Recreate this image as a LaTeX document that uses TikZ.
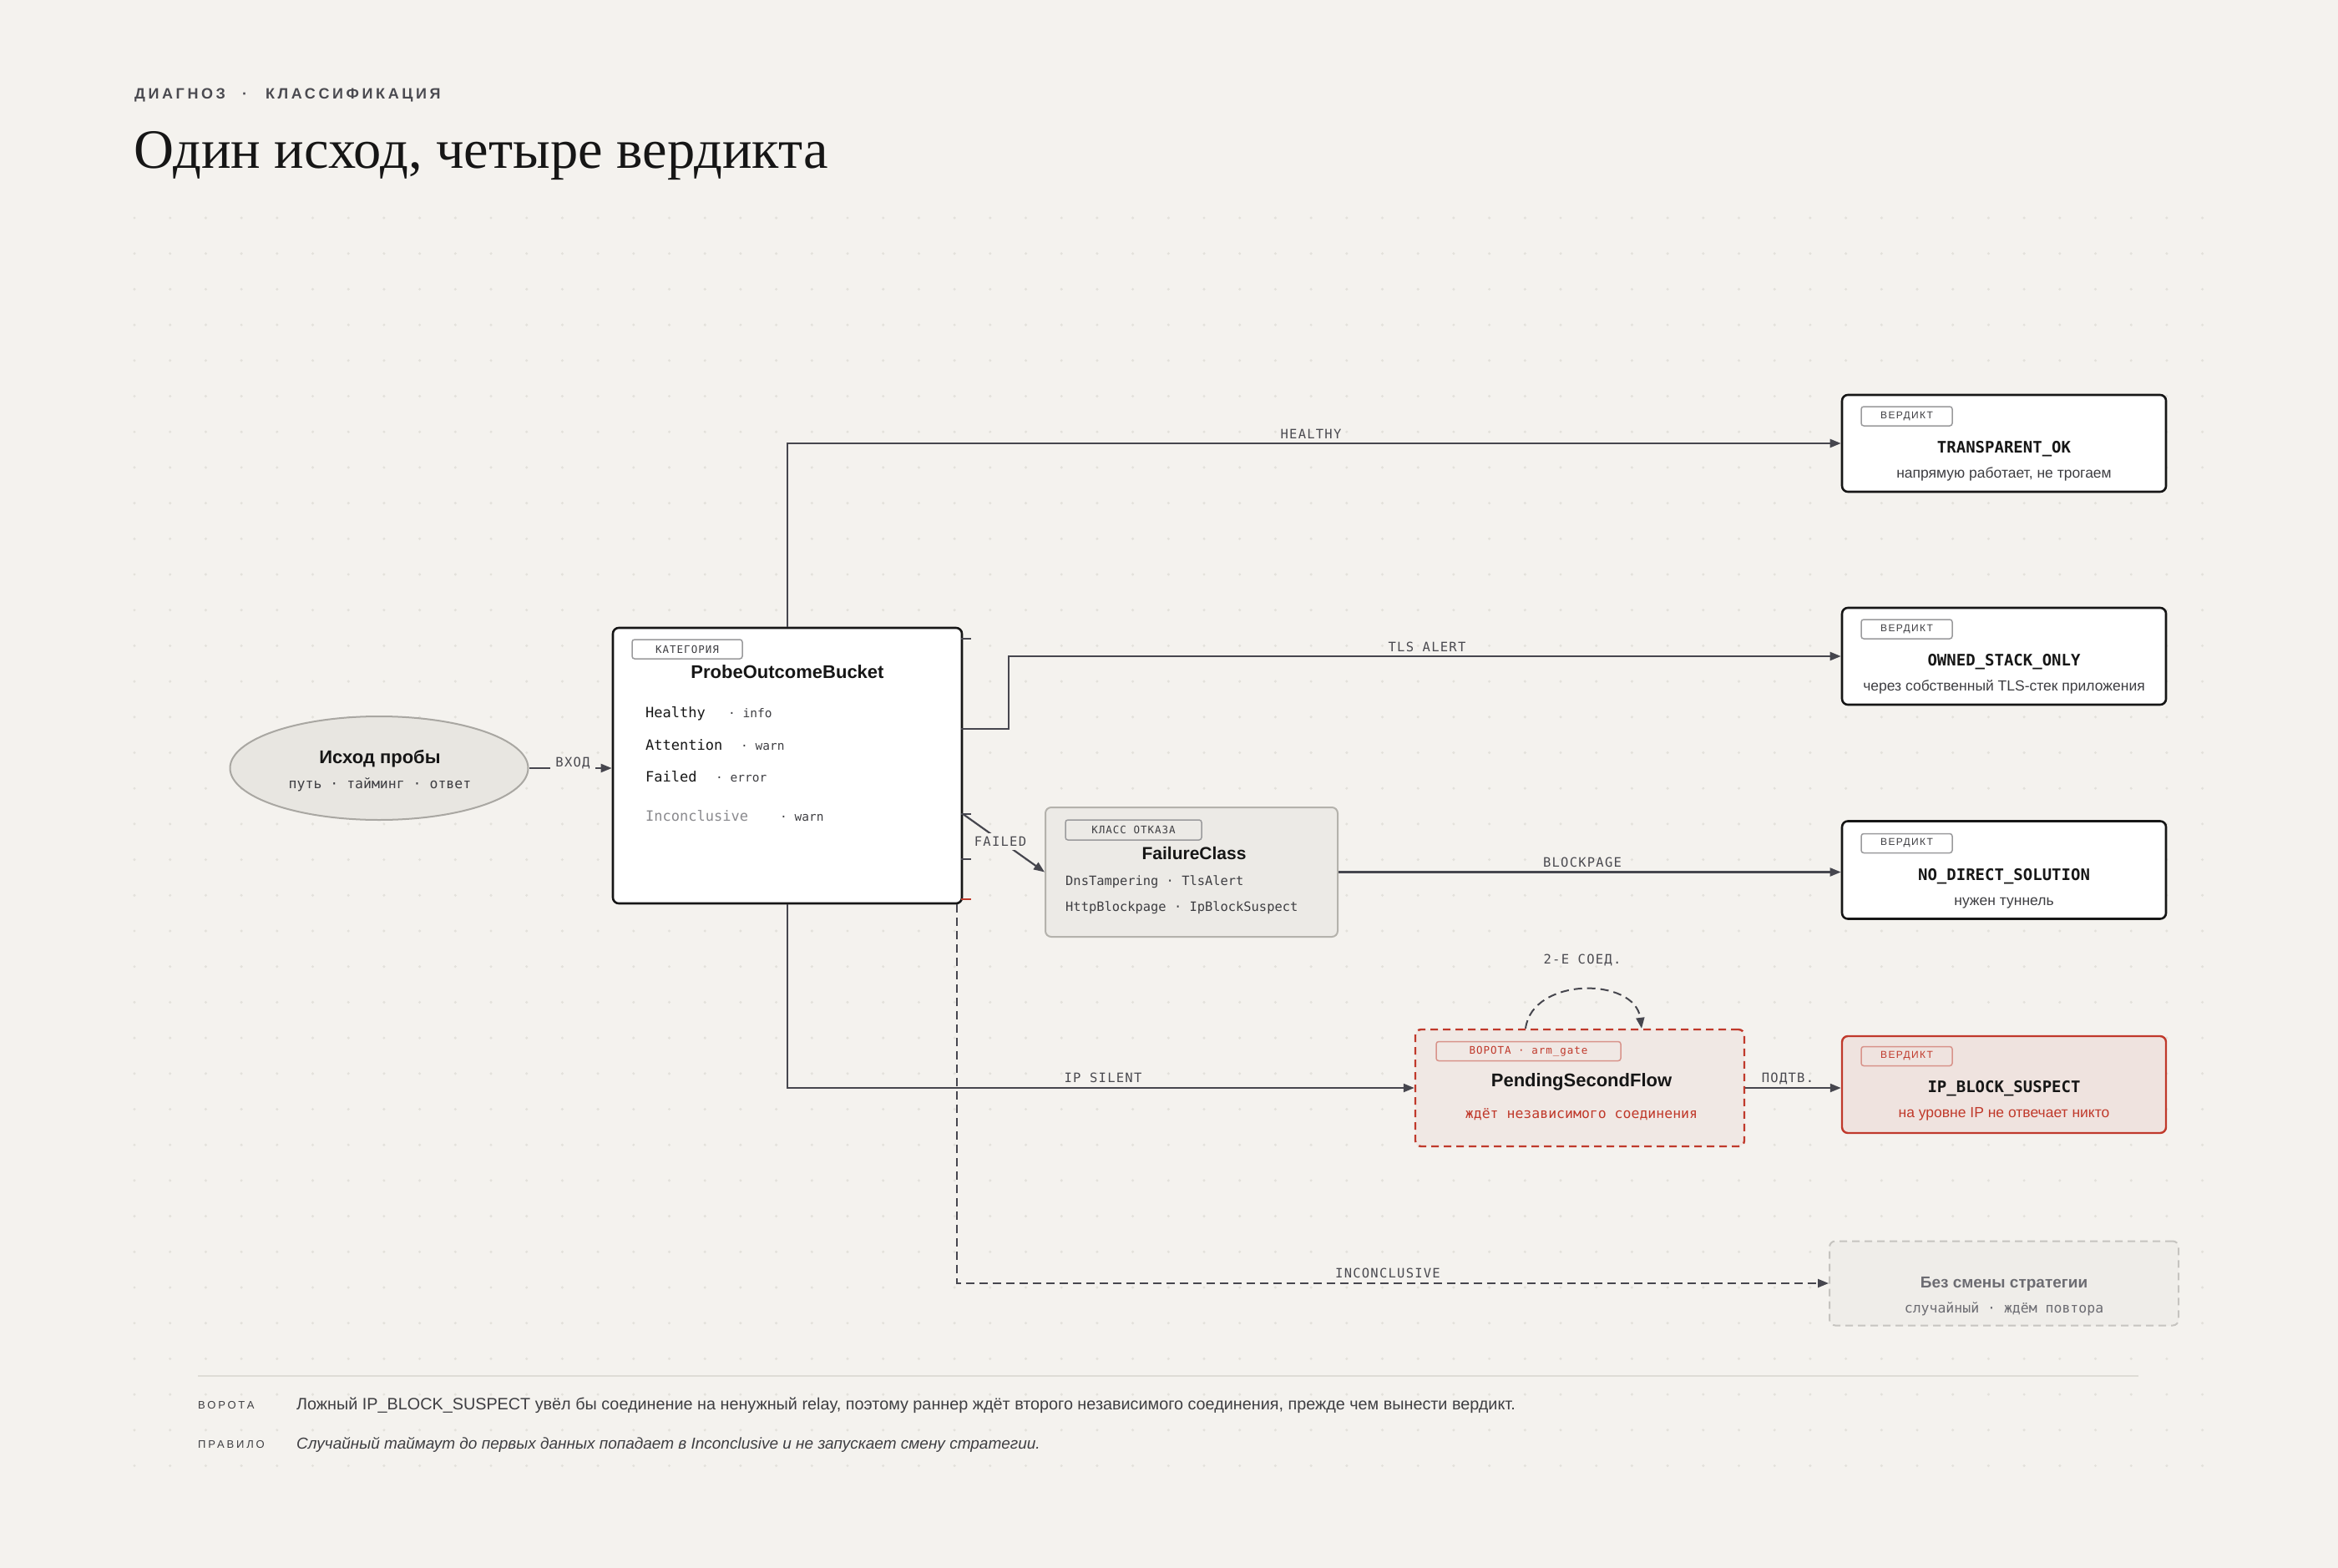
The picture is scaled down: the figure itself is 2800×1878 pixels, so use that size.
\documentclass[tikz,border=0pt]{standalone}
\usepackage{fontspec}
\setmainfont{Liberation Sans}
\setsansfont{Liberation Sans}
\setmonofont{DejaVu Sans Mono}
\newfontfamily\seriffont{Liberation Serif}
\newfontfamily\kickfont[LetterSpace=20]{Liberation Sans}
\newfontfamily\tagsans[LetterSpace=12]{Liberation Sans}
\newfontfamily\footsans[LetterSpace=22]{Liberation Sans}
\newfontfamily\tagmono[LetterSpace=8]{DejaVu Sans Mono}
\newfontfamily\labmono[LetterSpace=8]{DejaVu Sans Mono}
\newfontfamily\bodymono{DejaVu Sans Mono}
\usetikzlibrary{arrows.meta,shapes.geometric,calc}
\newcommand\setfs[1]{\fontsize{#1}{#1}\selectfont}
\definecolor{bgC}{HTML}{F4F2EE}
\definecolor{dotC}{HTML}{E3E1DB}
\definecolor{lineC}{HTML}{46464E}
\definecolor{textD}{HTML}{161616}
\definecolor{textM}{HTML}{3E3E42}
\definecolor{labC}{HTML}{4A4A50}
\definecolor{grayT}{HTML}{6C6C72}
\definecolor{lightT}{HTML}{8A8A8E}
\definecolor{redC}{HTML}{C0392B}
\definecolor{redFill}{HTML}{EFE3DF}
\definecolor{psfFill}{HTML}{F0E8E4}
\definecolor{redTag}{HTML}{D8938A}
\definecolor{ellF}{HTML}{E8E6E1}
\definecolor{ellD}{HTML}{A9A7A2}
\definecolor{fcF}{HTML}{ECEAE6}
\definecolor{fcD}{HTML}{B4B2AC}
\definecolor{ncF}{HTML}{EFEDE9}
\definecolor{ncD}{HTML}{C6C4C0}
\definecolor{tagD}{HTML}{9A9A9C}
\definecolor{ruleC}{HTML}{DEDCD6}
\begin{document}
\begin{tikzpicture}[x=1pt,y=-1pt,
  conn/.style={draw=lineC, line width=2.2pt, -{Triangle[length=13pt,width=10pt]}},
  dconn/.style={conn, dash pattern=on 10pt off 6pt},
  whitebox/.style={draw=textD, fill=white, line width=2.6pt, rounded corners=7pt, inner sep=0pt},
  fcbox/.style={draw=fcD, fill=fcF, line width=2pt, rounded corners=7pt, inner sep=0pt},
  redbox/.style={draw=redC, fill=redFill, line width=2.4pt, rounded corners=7pt, inner sep=0pt},
  psfbox/.style={draw=redC, fill=psfFill, line width=2.4pt, rounded corners=7pt, inner sep=0pt, dash pattern=on 9pt off 6pt},
  ncbox/.style={draw=ncD, fill=ncF, line width=2pt, rounded corners=7pt, inner sep=0pt, dash pattern=on 9pt off 6pt},
  tagbox/.style={draw=tagD, fill=white, line width=1.5pt, rounded corners=3pt, inner sep=0pt, minimum height=23pt},
  elab/.style={font={\labmono\setfs{15.5}}, text=labC, inner sep=0pt, anchor=base},
  txt/.style={inner sep=0pt, anchor=base},
  tick/.style={draw=lineC, line width=2pt}
]
\useasboundingbox (0,0) rectangle (2800,1878);
\fill[bgC] (0,0) rectangle (2800,1878);
% dot grid
\foreach \i in {0,...,58}{
  \foreach \j in {0,...,35}{
    \fill[dotC] ({161+42.7*\i},{261+42.7*\j}) circle[radius=1.7pt];
  }
}
% heading
\node[txt, anchor=base west, text=labC, font={\kickfont\bfseries\setfs{18}}] (kicker) at (161,119) {ДИАГНОЗ\hspace{20pt}·\hspace{22pt}КЛАССИФИКАЦИЯ};
\node[txt, anchor=base west, text=textD, font={\seriffont\setfs{66.5}}] (title) at (160,202) {Один исход, четыре вердикта};

% nodes
\node[ellipse, draw=ellD, fill=ellF, line width=2pt, minimum width=357pt, minimum height=124pt, inner sep=0pt] (ell) at (454,920) {};
\node[txt, font={\bfseries\setfs{22}}, text=textD] (ellT) at (455,914) {Исход пробы};
\node[txt, font={\bodymono\setfs{16.5}}, text=textM] (ellS) at (455,944) {путь · тайминг · ответ};

\node[whitebox, minimum width=418pt, minimum height=330pt] (probe) at (943,917) {};
\node[tagbox, minimum width=132pt, font={\tagmono\setfs{12.5}}, text=textM] (tagP) at (823,777.5) {КАТЕГОРИЯ};
\node[txt, font={\bfseries\setfs{22}}, text=textD] (probeT) at (943,812) {ProbeOutcomeBucket};
\node[txt, anchor=base west, font={\bodymono\setfs{17}}, text=textD] (r1) at (773,859) {Healthy};
\node[txt, anchor=base west, font={\bodymono\setfs{14.5}}, text=textM] (r1s) at (872,859) {· info};
\node[txt, anchor=base west, font={\bodymono\setfs{17}}, text=textD] (r2) at (773,898) {Attention};
\node[txt, anchor=base west, font={\bodymono\setfs{14.5}}, text=textM] (r2s) at (887,898) {· warn};
\node[txt, anchor=base west, font={\bodymono\setfs{17}}, text=textD] (r3) at (773,936) {Failed};
\node[txt, anchor=base west, font={\bodymono\setfs{14.5}}, text=textM] (r3s) at (857,936) {· error};
\node[txt, anchor=base west, font={\bodymono\setfs{17}}, text=lightT] (r4) at (773,983) {Inconclusive};
\node[txt, anchor=base west, font={\bodymono\setfs{14.5}}, text=textM] (r4s) at (934,983) {· warn};

\node[fcbox, minimum width=350pt, minimum height=155pt] (fc) at (1427,1044.5) {};
\node[tagbox, fill=fcF, draw=tagD, minimum width=163pt, minimum height=24pt, font={\tagmono\setfs{12.5}}, text=textM] (tagF) at (1357.5,994) {КЛАСС ОТКАЗА};
\node[txt, font={\bfseries\setfs{21}}, text=textD] (fcT) at (1430,1029) {FailureClass};
\node[txt, anchor=base west, font={\bodymono\setfs{15.4}}, text=textM] (fc1) at (1276,1060) {DnsTampering · TlsAlert};
\node[txt, anchor=base west, font={\bodymono\setfs{15.4}}, text=textM] (fc2) at (1276,1091) {HttpBlockpage · IpBlockSuspect};

% verdicts
\node[whitebox, minimum width=388pt, minimum height=116pt] (v1) at (2400,531) {};
\node[tagbox, minimum width=109pt, font={\tagsans\setfs{12}}, text=textM] (tag1) at (2283.5,498.5) {ВЕРДИКТ};
\node[txt, font={\bodymono\bfseries\setfs{19}}, text=textD] (v1T) at (2400,542) {TRANSPARENT\_OK};
\node[txt, font={\setfs{17.5}}, text=textM] (v1S) at (2400,572) {напрямую работает, не трогаем};

\node[whitebox, minimum width=388pt, minimum height=116pt] (v2) at (2400,786) {};
\node[tagbox, minimum width=109pt, font={\tagsans\setfs{12}}, text=textM] (tag2) at (2283.5,753.5) {ВЕРДИКТ};
\node[txt, font={\bodymono\bfseries\setfs{19}}, text=textD] (v2T) at (2400,797) {OWNED\_STACK\_ONLY};
\node[txt, font={\setfs{17.5}}, text=textM] (v2S) at (2400,827) {через собственный TLS-стек приложения};

\node[whitebox, minimum width=388pt, minimum height=117pt] (v3) at (2400,1042) {};
\node[tagbox, minimum width=109pt, font={\tagsans\setfs{12}}, text=textM] (tag3) at (2283.5,1010) {ВЕРДИКТ};
\node[txt, font={\bodymono\bfseries\setfs{19}}, text=textD] (v3T) at (2400,1054) {NO\_DIRECT\_SOLUTION};
\node[txt, font={\setfs{17.5}}, text=textM] (v3S) at (2400,1084) {нужен туннель};

\node[redbox, minimum width=388pt, minimum height=116pt] (v4) at (2400,1299) {};
\node[tagbox, fill=redFill, draw=redTag, minimum width=109pt, font={\tagsans\setfs{12}}, text=redC] (tag4) at (2283.5,1265) {ВЕРДИКТ};
\node[txt, font={\bodymono\bfseries\setfs{19}}, text=textD] (v4T) at (2400,1308) {IP\_BLOCK\_SUSPECT};
\node[txt, font={\setfs{17.5}}, text=redC] (v4S) at (2400,1338) {на уровне IP не отвечает никто};

\node[psfbox, minimum width=394pt, minimum height=140pt] (psf) at (1892,1303) {};
\node[tagbox, fill=psfFill, draw=redTag, minimum width=221pt, font={\tagmono\setfs{12.5}}, text=redC] (tagG) at (1830.5,1259) {ВОРОТА · arm\_gate};
\node[txt, font={\bfseries\setfs{22}}, text=textD] (psfT) at (1894,1301) {PendingSecondFlow};
\node[txt, font={\bodymono\setfs{16.5}}, text=redC] (psfS) at (1894,1339) {ждёт независимого соединения};

\node[ncbox, minimum width=418pt, minimum height=101pt] (nc) at (2400,1537) {};
\node[txt, font={\bfseries\setfs{19}}, text=grayT] (ncT) at (2400,1542) {Без смены стратегии};
\node[txt, font={\bodymono\setfs{16.5}}, text=grayT] (ncS) at (2400,1572) {случайный · ждём повтора};

% ticks on probe
\foreach \d in {152,44,-58,-112}{
  \draw[tick] ([xshift=-2pt,yshift=\d pt]probe.east) -- ++(12,0);
}
\draw[tick, draw=redC] ([xshift=-2pt,yshift=-160pt]probe.east) -- ++(12,0);

% connectors
\draw[conn] (ell.east) -- (ell.east -| probe.west);
\draw[conn] (probe.north) |- (v1.west);
\draw[conn] ([yshift=44pt]probe.east) -- ++(55,0) |- (v2.west);
\draw[conn] ([yshift=-58pt]probe.east) -- (fc.west);
\draw[conn] (fc.east) -- (fc.east -| v3.west);
\draw[conn] (probe.south) |- (psf.west);
\draw[conn] (psf.east) -- (psf.east -| v4.west);
\draw[dconn] ([xshift=-7pt]probe.south east) |- (nc.west);
\draw[dconn, line width=2pt] ([xshift=-65pt]psf.north) .. controls +(8,-62) and +(-8,-62) .. ([xshift=74pt]psf.north);

% edge labels
\node[elab, fill=bgC, inner xsep=6pt, inner ysep=4pt, anchor=center] (lIn) at (686,914) {ВХОД};
\node[elab] (lH) at (1570,525) {HEALTHY};
\node[elab] (lT) at (1709,780) {TLS ALERT};
\node[elab, fill=bgC, inner xsep=4pt, inner ysep=4pt, anchor=center] (lF) at (1198,1008) {FAILED};
\node[elab] (lB) at (1895,1038) {BLOCKPAGE};
\node[elab] (lS) at (1895,1154) {2-Е СОЕД.};
\node[elab] (lI) at (1321,1296) {IP SILENT};
\node[elab] (lP) at (2141,1296) {ПОДТВ.};
\node[elab] (lN) at (1662,1530) {INCONCLUSIVE};

% footer
\draw[ruleC, line width=2pt] (237,1648) -- (2561,1648);
\node[txt, anchor=base west, font={\footsans\setfs{13}}, text=textM] (fk1) at (237,1687) {ВОРОТА};
\node[txt, anchor=base west, font={\setfs{19.8}}, text=textM] (ft1) at (355,1688) {Ложный IP\_BLOCK\_SUSPECT увёл бы соединение на ненужный relay, поэтому раннер ждёт второго независимого соединения, прежде чем вынести вердикт.};
\node[txt, anchor=base west, font={\footsans\setfs{13}}, text=textM] (fk2) at (237,1734) {ПРАВИЛО};
\node[txt, anchor=base west, font={\itshape\setfs{19}}, text=textM] (ft2) at (355,1735) {Случайный таймаут до первых данных попадает в Inconclusive и не запускает смену стратегии.};
\end{tikzpicture}
\end{document}
